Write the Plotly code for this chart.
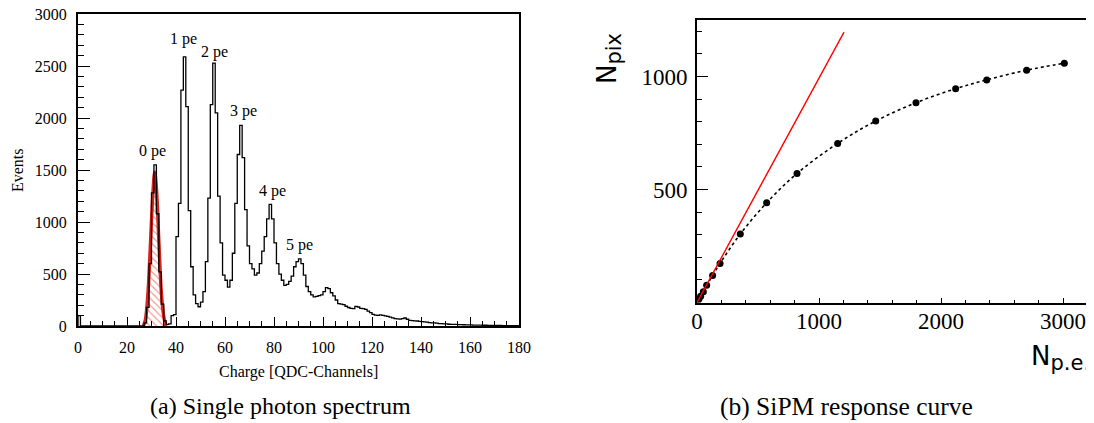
import plotly.graph_objects as go

W, H = 1094, 423
OFF = 8  # default page margin of the html body

# ---------------- Left panel: single photon spectrum ----------------
# histogram: left bin edge (QDC channel) and counts, 1-channel bins
hist_channels = list(range(0, 180))
hist_counts = (
    [100] + [0] * 26 +                                   # ch 0 .. 26
    [30, 180, 600, 1280, 1550, 1080, 520, 210, 50, 15,   # ch 27 .. 36
     20, 100, 110, 860, 1180, 2270, 2590, 2110, 1110, 570,  # 37 .. 46
     300, 215, 185, 230, 330, 620, 1230, 2130, 2530, 2050,  # 47 .. 56
     1250, 800, 490, 440, 375, 440, 700, 1180, 1650, 1930,  # 57 .. 66
     1620, 1120, 770, 600, 550, 490, 510, 600, 720, 860,    # 67 .. 76
     1030, 1170, 1030, 800, 600, 500, 440, 390, 400, 430,   # 77 .. 86
     480, 570, 620, 645, 600, 490, 380, 330, 300, 280,      # 87 .. 96
     285, 292, 300, 330, 370, 360, 320, 290, 250, 215,      # 97 .. 106
     210, 205, 190, 178, 170, 167, 188, 183, 170, 167,      # 107 .. 116
     160, 144, 128, 112, 105, 103, 108, 102, 98, 93,        # 117 .. 126
     85, 78, 70, 68, 67, 70, 77, 65, 55, 52,                # 127 .. 136
     50, 48, 45, 42, 40, 38, 33, 31, 30, 27,                # 137 .. 146
     23, 22, 21, 20, 17, 16, 15, 15, 14, 13,                # 147 .. 156
     12, 11, 10, 10, 9, 9, 8, 8, 7, 7,                      # 157 .. 166
     6, 6, 6, 5, 5, 5, 4, 4, 4, 4,                          # 167 .. 176
     3, 3, 3]                                               # 177 .. 179
)

# Gaussian fit of the pedestal (0 pe)
fit_x = [26.7, 27.5, 28.5, 29.5, 30.5, 31.3, 32.0, 33.0, 34.0, 35.0, 35.9]
fit_y = [0, 60, 300, 760, 1250, 1480, 1330, 820, 330, 90, 0]

peak_labels = ["0 pe", "1 pe", "2 pe", "3 pe", "4 pe", "5 pe"]
peak_label_x = [30.3, 43.0, 55.6, 67.6, 79.5, 90.6]
peak_label_y = [1680, 2760, 2640, 2070, 1300, 780]

# ---------------- Right panel: SiPM response curve ----------------
npe = [4, 16, 30, 52, 79, 128, 189, 355, 571, 820, 1153, 1465, 1795, 2120, 2375, 2702, 3011]
npix = [5, 15, 28, 48, 76, 119, 173, 303, 441, 571, 704, 803, 884, 946, 985, 1028, 1059]
linear_x = [0, 1205]
linear_y = [0, 1196]

# ---------------- geometry helpers (screen pixel -> paper) ----------------
def px(x):
    return (x - OFF) / W

def py(y):
    return 1 - (y - OFF) / H

step_x = [hist_channels[0]] + hist_channels + [hist_channels[-1] + 1]
step_y = [0] + hist_counts + [0]

fig = go.Figure()

fig.add_trace(go.Scatter(
    x=fit_x, y=fit_y, mode="lines", line=dict(color="rgb(215,35,25)", width=3.4, shape="spline"),
    fill="tozeroy", fillcolor="rgba(0,0,0,0)",
    fillpattern=dict(shape="\\", fgcolor="rgb(225,60,50)", bgcolor="white", size=5, solidity=0.25),
    xaxis="x", yaxis="y", showlegend=False, hoverinfo="skip"))

fig.add_trace(go.Scatter(
    x=step_x, y=step_y, mode="lines", line=dict(color="black", width=1.3, shape="hv"),
    xaxis="x", yaxis="y", showlegend=False))

fig.add_trace(go.Scatter(
    x=npe, y=npix, mode="lines+markers",
    line=dict(color="black", width=1.6, dash="dot", shape="spline"),
    marker=dict(color="black", size=7),
    xaxis="x2", yaxis="y2", showlegend=False))

fig.add_trace(go.Scatter(
    x=linear_x, y=linear_y, mode="lines", line=dict(color="red", width=1.4),
    xaxis="x2", yaxis="y2", showlegend=False))

serif = "Liberation Serif"

axis_common = dict(showgrid=False, zeroline=False, showline=True, linecolor="black",
                   ticks="inside", tickcolor="black", automargin=False,
                   ticklabeloverflow="allow")

x2_px_per_unit = 0.122
x2_end = (W + OFF - 697) / x2_px_per_unit

fig.update_layout(
    width=W, height=H, margin=dict(l=0, r=0, t=0, b=0, autoexpand=False),
    paper_bgcolor="white", plot_bgcolor="white",
    xaxis=dict(**axis_common, domain=[px(78), px(519)], range=[0, 180],
               tickvals=list(range(0, 181, 20)), ticklen=9, tickwidth=1.2,
               linewidth=2, mirror=True, anchor="y",
               minor=dict(dtick=5, tick0=0, ticks="inside", ticklen=5, tickcolor="black", showgrid=False),
               tickfont=dict(family=serif, size=16, color="black"), ticklabelstandoff=6),
    yaxis=dict(**axis_common, domain=[py(326), py(14)], range=[0, 3002],
               tickvals=list(range(0, 3001, 500)), ticklen=12, tickwidth=1.2,
               linewidth=2, mirror=True, anchor="x",
               minor=dict(dtick=100, tick0=0, ticks="inside", ticklen=6, tickcolor="black", showgrid=False),
               tickfont=dict(family=serif, size=16, color="black"), ticklabelstandoff=6),
    xaxis2=dict(**axis_common, domain=[px(697), 1.0], range=[0, x2_end],
                tickvals=[0, 1000, 2000, 3000], ticklen=5, tickwidth=1.2,
                linewidth=1.6, mirror=True, anchor="y2",
                minor=dict(dtick=200, tick0=0, ticks="inside", ticklen=3, tickcolor="black", showgrid=False),
                tickfont=dict(family=serif, size=23, color="black"), ticklabelstandoff=-3),
    yaxis2=dict(**axis_common, domain=[py(302.5), py(20)], range=[0, 1250],
                tickvals=[500, 1000], ticklen=11, tickwidth=1.2,
                linewidth=1.6, mirror=False, anchor="x2",
                minor=dict(dtick=100, tick0=0, ticks="inside", ticklen=5, tickcolor="black", showgrid=False),
                tickfont=dict(family=serif, size=23, color="black"), ticklabelstandoff=3),
)

annotations = []
for lab, lx, ly in zip(peak_labels, peak_label_x, peak_label_y):
    annotations.append(dict(text=lab, x=lx, y=ly, xref="x", yref="y", showarrow=False,
                            xanchor="center", yanchor="middle",
                            font=dict(family=serif, size=16, color="black")))

def paper_text(text, x, y, size, family=serif, angle=0, xanchor="center"):
    return dict(text=text, x=px(x), y=py(y), xref="paper", yref="paper", showarrow=False,
                xanchor=xanchor, yanchor="middle", textangle=angle,
                font=dict(family=family, size=size, color="black"))

annotations += [
    paper_text("Events", 17, 170, 16, angle=-90),
    paper_text("Charge [QDC-Channels]", 299, 372, 16),
    paper_text("(a) Single photon spectrum", 280, 406, 24),
    paper_text("(b) SiPM response curve", 846, 406, 25.5),
    paper_text("N<sub><span style='font-size:21px'>pix</span></sub>", 609, 59, 26,
               family="DejaVu Sans", angle=-90),
    paper_text("N<sub><span style='font-size:21px'>p.e.</span></sub>", 1092, 358, 26,
               family="DejaVu Sans", xanchor="right"),
]
fig.update_layout(annotations=annotations)

fig.write_html("out.html")
